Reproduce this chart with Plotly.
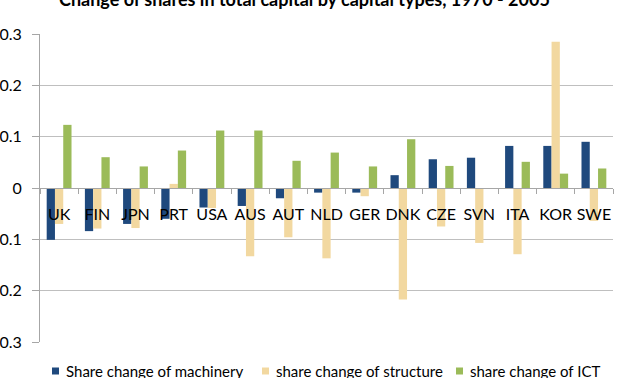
import plotly.graph_objects as go

categories = ["UK", "FIN", "JPN", "PRT", "USA", "AUS", "AUT", "NLD", "GER", "DNK", "CZE", "SVN", "ITA", "KOR", "SWE"]
machinery = [-0.101, -0.084, -0.070, -0.060, -0.038, -0.035, -0.020, -0.009, -0.009, 0.025, 0.056, 0.059, 0.082, 0.082, 0.090]
structure = [-0.070, -0.079, -0.078, 0.008, -0.039, -0.133, -0.096, -0.137, -0.016, -0.217, -0.075, -0.107, -0.129, 0.285, -0.064]
ict = [0.123, 0.060, 0.042, 0.073, 0.112, 0.112, 0.053, 0.069, 0.042, 0.095, 0.043, 0.0, 0.051, 0.028, 0.038]
series_names = ["Share change of machinery", "share change of structure", "share change of ICT"]
colors = ["#1F497D", "#F2D8A0", "#9BBB59"]
title_text = "Change of shares in total capital by capital types, 1970 - 2005"

FONT = "Lato"
W, H = 622, 378
ML, MR, MT, MB = 40, 9, 34, 36
PW, PH = W - ML - MR, H - MT - MB


def px_x(p):
    return (p - ML) / PW


def px_y(p):
    return (H - MB - p) / PH


fig = go.Figure()
for name, vals, col in zip(series_names, [machinery, structure, ict], colors):
    fig.add_trace(go.Bar(x=categories, y=vals, name=name, marker_color=col, marker_line_width=0))

annotations = [dict(text="<b>" + title_text + "</b>", xref="paper", yref="paper",
                    x=px_x(304.5), y=px_y(-1.3), xanchor="center", yanchor="middle", showarrow=False,
                    font=dict(family=FONT, size=18, color="#000000"))]
shapes = []
legend_text_x = [64, 274, 468]
for name, col, tx in zip(series_names, colors, legend_text_x):
    annotations.append(dict(text=name, xref="paper", yref="paper", x=px_x(tx), y=px_y(371),
                            xanchor="left", yanchor="middle", showarrow=False,
                            font=dict(family=FONT, size=15, color="#000000")))
    shapes.append(dict(type="rect", xref="paper", yref="paper", x0=px_x(tx - 12), x1=px_x(tx - 5),
                       y0=px_y(374.5), y1=px_y(367.5), fillcolor=col, line=dict(width=0)))

fig.update_layout(
    width=W, height=H,
    margin=dict(l=ML, r=MR, t=MT, b=MB, autoexpand=False),
    paper_bgcolor="white", plot_bgcolor="white",
    barmode="group", bargap=0.35, bargroupgap=0,
    font=dict(family=FONT, color="#000000", size=15),
    showlegend=False,
    annotations=annotations,
    shapes=shapes,
)
fig.update_yaxes(range=[-0.3, 0.3], dtick=0.1, tick0=0, showgrid=True, gridcolor="#BFBFBF", gridwidth=1,
                 zeroline=False, showline=True, linecolor="#A6A6A6", linewidth=1,
                 ticks="outside", ticklen=7, tickcolor="#A6A6A6", tickformat=".1~f",
                 tickfont=dict(size=16), ticklabelstandoff=7, automargin=False)
fig.update_xaxes(type="category", anchor="free", position=0.5, showgrid=False, zeroline=False,
                 showline=True, linecolor="#A6A6A6", linewidth=1, ticks="outside", ticklen=5,
                 tickcolor="#A6A6A6", tickson="boundaries", tickfont=dict(size=16), tickangle=0,
                 ticklabelstandoff=12, automargin=False)

fig.write_html("out.html")
